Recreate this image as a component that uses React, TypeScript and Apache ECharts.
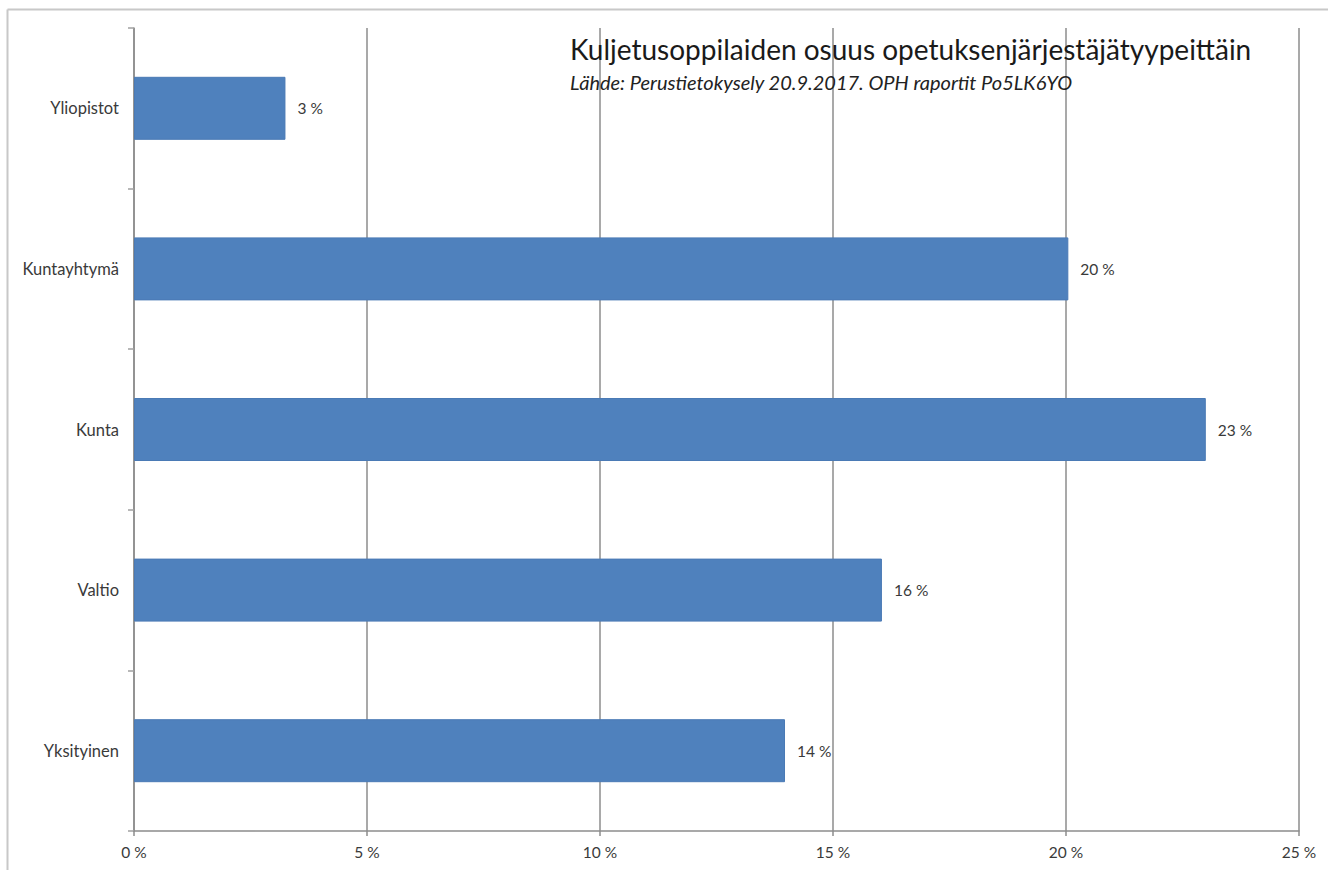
import React, { useEffect, useRef } from "react";
import * as echarts from "echarts";

const categories = ["Yliopistot", "Kuntayhtymä", "Kunta", "Valtio", "Yksityinen"];
const values = [3.25, 20.05, 23.0, 16.05, 13.97];
const titleText = "Kuljetusoppilaiden osuus opetuksenjärjestäjätyypeittäin";
const subtitleText = "Lähde: Perustietokysely 20.9.2017. OPH raportit Po5LK6YO";

const FONT = "Lato, 'Open Sans', sans-serif";

export default function App() {
  const ref = useRef<HTMLDivElement>(null);
  useEffect(() => {
    if (!ref.current) return;
    const chart = echarts.init(ref.current, null, { renderer: "svg" });
    chart.setOption({
      animation: false,
      backgroundColor: "#ffffff",
      textStyle: { fontFamily: FONT },
      title: {
        text: titleText,
        subtext: subtitleText,
        left: 565,
        top: 30,
        itemGap: 9,
        textStyle: { fontFamily: FONT, fontSize: 28, fontWeight: "normal", color: "#1a1a1a" },
        subtextStyle: { fontFamily: FONT, fontSize: 20, fontStyle: "italic", color: "#222222" },
      },
      graphic: [
        { type: "line", shape: { x1: 7.5, y1: 9.5, x2: 1328, y2: 9.5 }, style: { stroke: "#c8c8c8", lineWidth: 2 } },
        { type: "line", shape: { x1: 7.5, y1: 9.5, x2: 7.5, y2: 870 }, style: { stroke: "#c8c8c8", lineWidth: 2 } },
      ],
      grid: { left: 134, right: 29, top: 28, bottom: 39, containLabel: false },
      xAxis: {
        type: "value",
        min: 0,
        max: 25,
        interval: 5,
        axisLine: { show: true, lineStyle: { color: "#8c8c8c", width: 1.5 } },
        axisTick: { show: true, length: 5, lineStyle: { color: "#8c8c8c", width: 1.5 } },
        splitLine: { show: true, lineStyle: { color: "#8c8c8c", width: 1.5 } },
        axisLabel: {
          formatter: (v: number) => `${v} %`,
          color: "#3a3a3a",
          fontSize: 15.5,
          fontFamily: FONT,
          margin: 13,
        },
      },
      yAxis: {
        type: "category",
        data: categories,
        inverse: true,
        axisLine: { show: true, lineStyle: { color: "#8c8c8c", width: 1.5 } },
        axisTick: { show: true, length: 6, lineStyle: { color: "#a0a0a0", width: 1.5 } },
        axisLabel: { color: "#3a3a3a", fontSize: 16.5, fontFamily: FONT, margin: 15 },
      },
      series: [
        {
          type: "bar",
          data: values,
          barWidth: 63,
          itemStyle: { color: "#4F81BD", borderColor: "#4a7ab5", borderWidth: 1 },
          label: {
            show: true,
            position: "right",
            distance: 12,
            formatter: (p: any) => `${Math.round(p.value)} %`,
            color: "#3a3a3a",
            fontSize: 15.5,
            fontFamily: FONT,
          },
        },
      ],
    });
    return () => chart.dispose();
  }, []);
  return (
    <div
      ref={ref}
      style={{ position: "fixed", left: 0, top: 0, width: 1328, height: 870 }}
    />
  );
}
